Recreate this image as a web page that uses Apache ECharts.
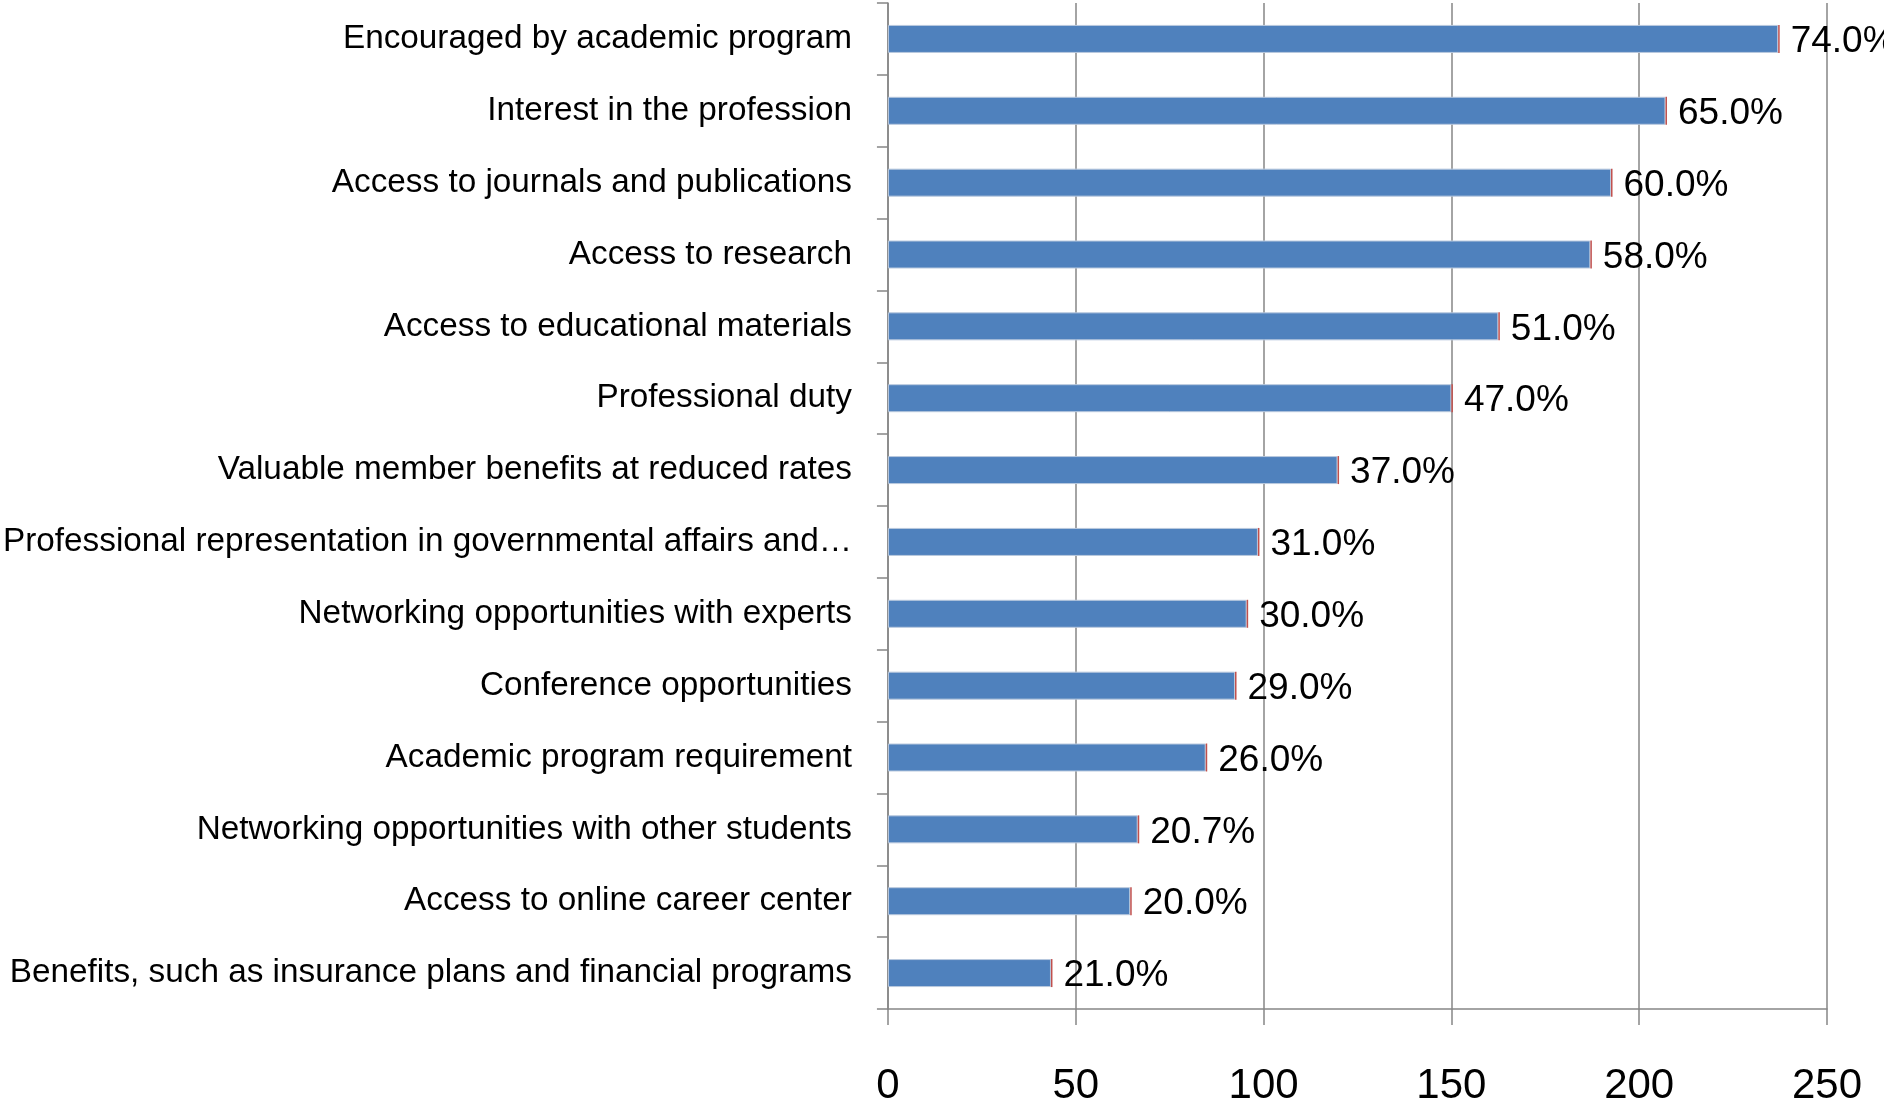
<!DOCTYPE html>
<html>
<head>
<meta charset="utf-8">
<script src="https://cdn.jsdelivr.net/npm/echarts@6/dist/echarts.min.js"></script>
<style>html,body{margin:0;padding:0;background:#fff}#c{width:1884px;height:1109px}</style>
</head>
<body>
<div id="c"></div>
<script>
const categories = [
  "Encouraged by academic program",
  "Interest in the profession",
  "Access to journals and publications",
  "Access to research",
  "Access to educational materials",
  "Professional duty",
  "Valuable member benefits at reduced rates",
  "Professional representation in governmental affairs and…",
  "Networking opportunities with experts",
  "Conference opportunities",
  "Academic program requirement",
  "Networking opportunities with other students",
  "Access to online career center",
  "Benefits, such as insurance plans and financial programs"
];
const counts = [237, 207, 192.5, 187, 162.5, 150, 119.7, 98.5, 95.5, 92.4, 84.6, 66.5, 64.5, 43.4];
const percentLabels = ["74.0%", "65.0%", "60.0%", "58.0%", "51.0%", "47.0%", "37.0%", "31.0%", "30.0%", "29.0%", "26.0%", "20.7%", "20.0%", "21.0%"];
const capValues = [0.4, 0.4, 0.4, 0.4, 0.4, 0.4, 0.4, 0.4, 0.4, 0.4, 0.4, 0.4, 0.4, 0.4];
const xTicks = [0, 50, 100, 150, 200, 250];

const chart = echarts.init(document.getElementById('c'), null, {renderer: 'canvas'});
const gridColor = '#868686';
chart.setOption({
  animation: false,
  grid: {left: 886, right: 57, top: 3, bottom: 100, containLabel: false},
  xAxis: {
    type: 'value', min: xTicks[0], max: xTicks[xTicks.length - 1], interval: 50,
    axisLine: {show: true, lineStyle: {color: gridColor, width: 1.5}},
    axisTick: {show: true, length: 16, lineStyle: {color: gridColor, width: 1.5}},
    splitLine: {show: true, lineStyle: {color: gridColor, width: 1.5}},
    axisLabel: {color: '#000', fontFamily: 'Liberation Sans', fontSize: 42, margin: 56}
  },
  yAxis: {
    type: 'category', data: categories, inverse: true,
    axisLine: {show: true, lineStyle: {color: gridColor, width: 1.5}},
    axisTick: {show: true, length: 11, lineStyle: {color: gridColor, width: 1.5}},
    axisLabel: {color: '#000', fontFamily: 'Liberation Sans', fontSize: 33.3, margin: 36}
  },
  series: [
    {
      type: 'bar', stack: 's', data: counts, barWidth: 28,
      itemStyle: {color: '#4F81BD', borderColor: '#b9c9de', borderWidth: 1},
      silent: true
    },
    {
      type: 'bar', stack: 's', data: capValues, barWidth: 28,
      itemStyle: {color: '#C0504D'},
      label: {
        show: true, position: 'right', distance: 11, offset: [0, 3], color: '#000',
        fontFamily: 'Liberation Sans', fontSize: 37,
        formatter: p => percentLabels[p.dataIndex]
      }
    }
  ]
});
</script>
</body>
</html>
